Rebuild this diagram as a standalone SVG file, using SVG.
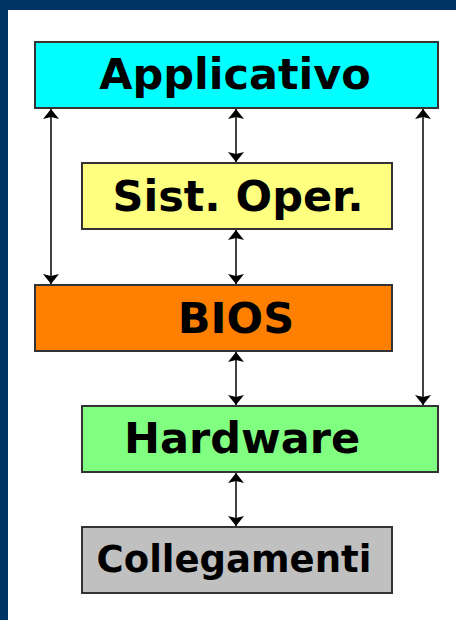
<svg xmlns="http://www.w3.org/2000/svg" width="456" height="620" viewBox="0 0 456 620">
<style>
.box{stroke:#333;stroke-width:2}
.lbl{font-family:"DejaVu Sans","Liberation Sans",sans-serif;font-weight:bold;fill:#000;text-anchor:middle}
.con{stroke:#111;stroke-width:1.6;fill:none;marker-start:url(#ah);marker-end:url(#ah)}
</style>
<defs>
<marker id="ah" viewBox="0 0 10 16" refX="10" refY="8" markerWidth="10" markerHeight="16" markerUnits="userSpaceOnUse" orient="auto-start-reverse">
<path d="M0,0 L10,8 L0,16 L2,8 Z" fill="#000"/>
</marker>
</defs>
<rect x="0" y="0" width="456" height="620" fill="#fff"/>
<rect x="0" y="0" width="456" height="10" fill="#003366"/>
<rect x="0" y="0" width="8" height="620" fill="#003366"/>
<g id="connectors">
<line class="con" x1="51" y1="109" x2="51" y2="284"/>
<line class="con" x1="236" y1="109" x2="236" y2="162"/>
<line class="con" x1="423" y1="109" x2="423" y2="405"/>
<line class="con" x1="236" y1="230" x2="236" y2="284"/>
<line class="con" x1="236" y1="352" x2="236" y2="405"/>
<line class="con" x1="236" y1="473" x2="236" y2="526"/>
</g>
<g id="applicativo">
<rect class="box" x="35" y="42" width="403" height="66" fill="#00ffff"/>
<text class="lbl" x="235" y="89" font-size="43">Applicativo</text>
</g>
<g id="sistoper">
<rect class="box" x="82" y="163" width="310" height="66" fill="#ffff80"/>
<text class="lbl" x="238" y="211" font-size="43">Sist. Oper.</text>
</g>
<g id="bios">
<rect class="box" x="35" y="285" width="357" height="66" fill="#ff8000"/>
<text class="lbl" x="236" y="333" font-size="43">BIOS</text>
</g>
<g id="hardware">
<rect class="box" x="82" y="406" width="356" height="66" fill="#80ff80"/>
<text class="lbl" x="242" y="453" font-size="43">Hardware</text>
</g>
<g id="collegamenti">
<rect class="box" x="82" y="527" width="310" height="66" fill="#c0c0c0"/>
<text class="lbl" x="234" y="572" font-size="37">Collegamenti</text>
</g>
</svg>
